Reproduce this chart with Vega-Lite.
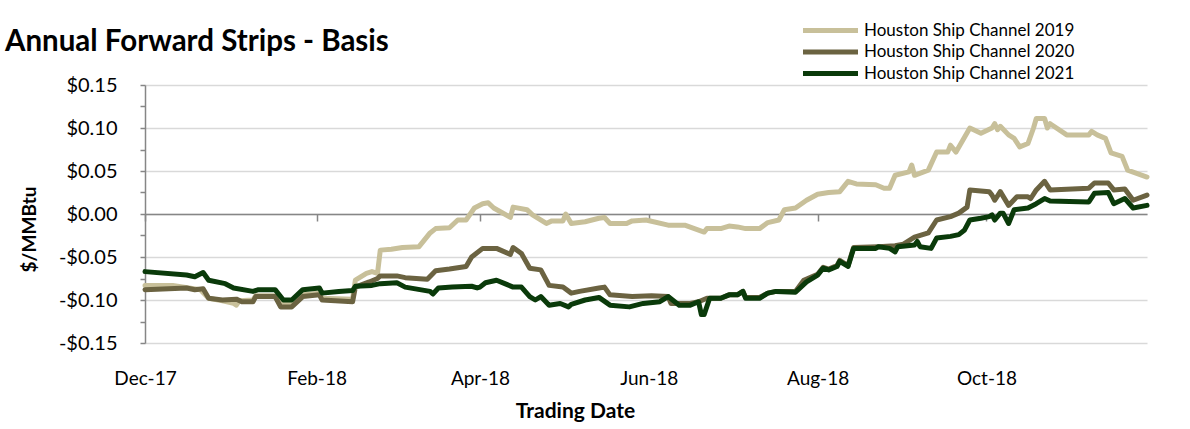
{
  "$schema": "https://vega.github.io/schema/vega-lite/v6.json",
  "width": 1002,
  "height": 258,
  "autosize": "none",
  "padding": {"left": 145, "top": 85, "right": 43, "bottom": 86},
  "background": "white",
  "title": {"text": "Annual Forward Strips - Basis", "anchor": "start", "frame": "group", "dx": -140, "offset": -58, "baseline": "alphabetic", "font": "Lato", "fontSize": 29.5, "fontWeight": "bold", "color": "#000000"},
  "config": {"view": {"stroke": null}},
  "data": {"values": [
    {"s":"2019","d":"2017-12-01","v":-0.083},{"s":"2019","d":"2017-12-11","v":-0.083},{"s":"2019","d":"2017-12-21","v":-0.088},{"s":"2019","d":"2017-12-24","v":-0.098},{"s":"2019","d":"2017-12-29","v":-0.101},{"s":"2019","d":"2018-01-02","v":-0.104},{"s":"2019","d":"2018-01-03","v":-0.106},{"s":"2019","d":"2018-01-04","v":-0.101},{"s":"2019","d":"2018-01-09","v":-0.100},{"s":"2019","d":"2018-01-10","v":-0.095},{"s":"2019","d":"2018-01-17","v":-0.095},{"s":"2019","d":"2018-01-19","v":-0.105},{"s":"2019","d":"2018-01-23","v":-0.105},{"s":"2019","d":"2018-01-27","v":-0.094},{"s":"2019","d":"2018-02-02","v":-0.092},{"s":"2019","d":"2018-02-03","v":-0.098},{"s":"2019","d":"2018-02-14","v":-0.099},{"s":"2019","d":"2018-02-15","v":-0.077},{"s":"2019","d":"2018-02-19","v":-0.069},{"s":"2019","d":"2018-02-21","v":-0.067},{"s":"2019","d":"2018-02-23","v":-0.069},{"s":"2019","d":"2018-02-24","v":-0.042},{"s":"2019","d":"2018-02-28","v":-0.041},{"s":"2019","d":"2018-03-04","v":-0.039},{"s":"2019","d":"2018-03-10","v":-0.038},{"s":"2019","d":"2018-03-14","v":-0.022},{"s":"2019","d":"2018-03-16","v":-0.017},{"s":"2019","d":"2018-03-21","v":-0.016},{"s":"2019","d":"2018-03-24","v":-0.007},{"s":"2019","d":"2018-03-27","v":-0.007},{"s":"2019","d":"2018-03-30","v":0.007},{"s":"2019","d":"2018-04-02","v":0.012},{"s":"2019","d":"2018-04-04","v":0.013},{"s":"2019","d":"2018-04-06","v":0.007},{"s":"2019","d":"2018-04-12","v":-0.004},{"s":"2019","d":"2018-04-13","v":0.008},{"s":"2019","d":"2018-04-18","v":0.005},{"s":"2019","d":"2018-04-20","v":-0.001},{"s":"2019","d":"2018-04-25","v":-0.011},{"s":"2019","d":"2018-04-27","v":-0.008},{"s":"2019","d":"2018-05-01","v":-0.008},{"s":"2019","d":"2018-05-02","v":0.000},{"s":"2019","d":"2018-05-04","v":-0.011},{"s":"2019","d":"2018-05-09","v":-0.009},{"s":"2019","d":"2018-05-14","v":-0.005},{"s":"2019","d":"2018-05-16","v":-0.004},{"s":"2019","d":"2018-05-18","v":-0.011},{"s":"2019","d":"2018-05-24","v":-0.011},{"s":"2019","d":"2018-05-26","v":-0.008},{"s":"2019","d":"2018-05-31","v":-0.007},{"s":"2019","d":"2018-06-08","v":-0.013},{"s":"2019","d":"2018-06-14","v":-0.013},{"s":"2019","d":"2018-06-21","v":-0.021},{"s":"2019","d":"2018-06-22","v":-0.017},{"s":"2019","d":"2018-06-27","v":-0.017},{"s":"2019","d":"2018-06-30","v":-0.014},{"s":"2019","d":"2018-07-03","v":-0.015},{"s":"2019","d":"2018-07-06","v":-0.017},{"s":"2019","d":"2018-07-11","v":-0.017},{"s":"2019","d":"2018-07-14","v":-0.010},{"s":"2019","d":"2018-07-18","v":-0.007},{"s":"2019","d":"2018-07-20","v":0.005},{"s":"2019","d":"2018-07-24","v":0.007},{"s":"2019","d":"2018-07-28","v":0.016},{"s":"2019","d":"2018-08-01","v":0.023},{"s":"2019","d":"2018-08-05","v":0.025},{"s":"2019","d":"2018-08-09","v":0.026},{"s":"2019","d":"2018-08-12","v":0.038},{"s":"2019","d":"2018-08-15","v":0.035},{"s":"2019","d":"2018-08-22","v":0.034},{"s":"2019","d":"2018-08-25","v":0.030},{"s":"2019","d":"2018-08-27","v":0.030},{"s":"2019","d":"2018-08-29","v":0.045},{"s":"2019","d":"2018-09-03","v":0.049},{"s":"2019","d":"2018-09-04","v":0.057},{"s":"2019","d":"2018-09-05","v":0.045},{"s":"2019","d":"2018-09-10","v":0.051},{"s":"2019","d":"2018-09-13","v":0.072},{"s":"2019","d":"2018-09-17","v":0.072},{"s":"2019","d":"2018-09-18","v":0.080},{"s":"2019","d":"2018-09-20","v":0.072},{"s":"2019","d":"2018-09-25","v":0.100},{"s":"2019","d":"2018-09-29","v":0.094},{"s":"2019","d":"2018-10-03","v":0.100},{"s":"2019","d":"2018-10-04","v":0.105},{"s":"2019","d":"2018-10-05","v":0.098},{"s":"2019","d":"2018-10-06","v":0.102},{"s":"2019","d":"2018-10-09","v":0.092},{"s":"2019","d":"2018-10-11","v":0.088},{"s":"2019","d":"2018-10-13","v":0.078},{"s":"2019","d":"2018-10-16","v":0.082},{"s":"2019","d":"2018-10-18","v":0.100},{"s":"2019","d":"2018-10-19","v":0.111},{"s":"2019","d":"2018-10-22","v":0.111},{"s":"2019","d":"2018-10-23","v":0.100},{"s":"2019","d":"2018-10-24","v":0.105},{"s":"2019","d":"2018-10-30","v":0.092},{"s":"2019","d":"2018-11-07","v":0.092},{"s":"2019","d":"2018-11-08","v":0.096},{"s":"2019","d":"2018-11-10","v":0.092},{"s":"2019","d":"2018-11-13","v":0.088},{"s":"2019","d":"2018-11-15","v":0.071},{"s":"2019","d":"2018-11-19","v":0.067},{"s":"2019","d":"2018-11-21","v":0.051},{"s":"2019","d":"2018-11-28","v":0.043},
    {"s":"2020","d":"2017-12-01","v":-0.088},{"s":"2020","d":"2017-12-16","v":-0.086},{"s":"2020","d":"2017-12-19","v":-0.088},{"s":"2020","d":"2017-12-22","v":-0.087},{"s":"2020","d":"2017-12-24","v":-0.098},{"s":"2020","d":"2017-12-29","v":-0.100},{"s":"2020","d":"2018-01-03","v":-0.099},{"s":"2020","d":"2018-01-05","v":-0.102},{"s":"2020","d":"2018-01-09","v":-0.102},{"s":"2020","d":"2018-01-10","v":-0.096},{"s":"2020","d":"2018-01-17","v":-0.096},{"s":"2020","d":"2018-01-19","v":-0.108},{"s":"2020","d":"2018-01-23","v":-0.108},{"s":"2020","d":"2018-01-27","v":-0.096},{"s":"2020","d":"2018-02-02","v":-0.094},{"s":"2020","d":"2018-02-03","v":-0.100},{"s":"2020","d":"2018-02-14","v":-0.102},{"s":"2020","d":"2018-02-15","v":-0.085},{"s":"2020","d":"2018-02-20","v":-0.079},{"s":"2020","d":"2018-02-23","v":-0.075},{"s":"2020","d":"2018-02-24","v":-0.072},{"s":"2020","d":"2018-03-02","v":-0.072},{"s":"2020","d":"2018-03-05","v":-0.074},{"s":"2020","d":"2018-03-13","v":-0.076},{"s":"2020","d":"2018-03-16","v":-0.066},{"s":"2020","d":"2018-03-21","v":-0.064},{"s":"2020","d":"2018-03-27","v":-0.061},{"s":"2020","d":"2018-03-29","v":-0.050},{"s":"2020","d":"2018-04-02","v":-0.040},{"s":"2020","d":"2018-04-07","v":-0.040},{"s":"2020","d":"2018-04-12","v":-0.047},{"s":"2020","d":"2018-04-13","v":-0.039},{"s":"2020","d":"2018-04-16","v":-0.046},{"s":"2020","d":"2018-04-19","v":-0.063},{"s":"2020","d":"2018-04-23","v":-0.065},{"s":"2020","d":"2018-04-26","v":-0.083},{"s":"2020","d":"2018-05-01","v":-0.085},{"s":"2020","d":"2018-05-04","v":-0.092},{"s":"2020","d":"2018-05-07","v":-0.090},{"s":"2020","d":"2018-05-14","v":-0.086},{"s":"2020","d":"2018-05-16","v":-0.085},{"s":"2020","d":"2018-05-18","v":-0.094},{"s":"2020","d":"2018-05-26","v":-0.096},{"s":"2020","d":"2018-06-02","v":-0.095},{"s":"2020","d":"2018-06-08","v":-0.096},{"s":"2020","d":"2018-06-09","v":-0.104},{"s":"2020","d":"2018-06-16","v":-0.104},{"s":"2020","d":"2018-06-19","v":-0.102},{"s":"2020","d":"2018-06-22","v":-0.098},{"s":"2020","d":"2018-06-27","v":-0.098},{"s":"2020","d":"2018-06-30","v":-0.094},{"s":"2020","d":"2018-07-03","v":-0.094},{"s":"2020","d":"2018-07-05","v":-0.090},{"s":"2020","d":"2018-07-06","v":-0.097},{"s":"2020","d":"2018-07-11","v":-0.097},{"s":"2020","d":"2018-07-14","v":-0.092},{"s":"2020","d":"2018-07-17","v":-0.090},{"s":"2020","d":"2018-07-24","v":-0.090},{"s":"2020","d":"2018-07-27","v":-0.077},{"s":"2020","d":"2018-08-01","v":-0.070},{"s":"2020","d":"2018-08-03","v":-0.062},{"s":"2020","d":"2018-08-05","v":-0.064},{"s":"2020","d":"2018-08-08","v":-0.060},{"s":"2020","d":"2018-08-09","v":-0.054},{"s":"2020","d":"2018-08-12","v":-0.060},{"s":"2020","d":"2018-08-14","v":-0.039},{"s":"2020","d":"2018-08-23","v":-0.038},{"s":"2020","d":"2018-08-29","v":-0.037},{"s":"2020","d":"2018-09-01","v":-0.035},{"s":"2020","d":"2018-09-05","v":-0.027},{"s":"2020","d":"2018-09-10","v":-0.022},{"s":"2020","d":"2018-09-13","v":-0.007},{"s":"2020","d":"2018-09-18","v":-0.003},{"s":"2020","d":"2018-09-21","v":0.001},{"s":"2020","d":"2018-09-24","v":0.008},{"s":"2020","d":"2018-09-25","v":0.028},{"s":"2020","d":"2018-10-02","v":0.026},{"s":"2020","d":"2018-10-03","v":0.022},{"s":"2020","d":"2018-10-04","v":0.016},{"s":"2020","d":"2018-10-06","v":0.026},{"s":"2020","d":"2018-10-09","v":0.010},{"s":"2020","d":"2018-10-12","v":0.020},{"s":"2020","d":"2018-10-16","v":0.020},{"s":"2020","d":"2018-10-17","v":0.018},{"s":"2020","d":"2018-10-19","v":0.028},{"s":"2020","d":"2018-10-22","v":0.038},{"s":"2020","d":"2018-10-24","v":0.028},{"s":"2020","d":"2018-11-07","v":0.030},{"s":"2020","d":"2018-11-09","v":0.036},{"s":"2020","d":"2018-11-14","v":0.036},{"s":"2020","d":"2018-11-16","v":0.028},{"s":"2020","d":"2018-11-20","v":0.029},{"s":"2020","d":"2018-11-23","v":0.016},{"s":"2020","d":"2018-11-28","v":0.022},
    {"s":"2021","d":"2017-12-01","v":-0.067},{"s":"2021","d":"2017-12-16","v":-0.071},{"s":"2021","d":"2017-12-19","v":-0.073},{"s":"2021","d":"2017-12-22","v":-0.068},{"s":"2021","d":"2017-12-24","v":-0.077},{"s":"2021","d":"2017-12-30","v":-0.081},{"s":"2021","d":"2018-01-02","v":-0.086},{"s":"2021","d":"2018-01-09","v":-0.090},{"s":"2021","d":"2018-01-11","v":-0.088},{"s":"2021","d":"2018-01-17","v":-0.088},{"s":"2021","d":"2018-01-20","v":-0.100},{"s":"2021","d":"2018-01-23","v":-0.100},{"s":"2021","d":"2018-01-27","v":-0.088},{"s":"2021","d":"2018-02-02","v":-0.086},{"s":"2021","d":"2018-02-03","v":-0.092},{"s":"2021","d":"2018-02-09","v":-0.090},{"s":"2021","d":"2018-02-14","v":-0.089},{"s":"2021","d":"2018-02-15","v":-0.084},{"s":"2021","d":"2018-02-21","v":-0.083},{"s":"2021","d":"2018-02-24","v":-0.081},{"s":"2021","d":"2018-03-02","v":-0.080},{"s":"2021","d":"2018-03-05","v":-0.085},{"s":"2021","d":"2018-03-14","v":-0.090},{"s":"2021","d":"2018-03-15","v":-0.093},{"s":"2021","d":"2018-03-17","v":-0.086},{"s":"2021","d":"2018-03-22","v":-0.085},{"s":"2021","d":"2018-03-29","v":-0.084},{"s":"2021","d":"2018-03-31","v":-0.086},{"s":"2021","d":"2018-04-01","v":-0.085},{"s":"2021","d":"2018-04-03","v":-0.080},{"s":"2021","d":"2018-04-07","v":-0.077},{"s":"2021","d":"2018-04-10","v":-0.081},{"s":"2021","d":"2018-04-13","v":-0.085},{"s":"2021","d":"2018-04-16","v":-0.085},{"s":"2021","d":"2018-04-19","v":-0.096},{"s":"2021","d":"2018-04-21","v":-0.100},{"s":"2021","d":"2018-04-23","v":-0.096},{"s":"2021","d":"2018-04-26","v":-0.106},{"s":"2021","d":"2018-04-30","v":-0.104},{"s":"2021","d":"2018-05-03","v":-0.108},{"s":"2021","d":"2018-05-04","v":-0.105},{"s":"2021","d":"2018-05-09","v":-0.100},{"s":"2021","d":"2018-05-14","v":-0.097},{"s":"2021","d":"2018-05-18","v":-0.106},{"s":"2021","d":"2018-05-25","v":-0.108},{"s":"2021","d":"2018-05-30","v":-0.104},{"s":"2021","d":"2018-06-05","v":-0.102},{"s":"2021","d":"2018-06-08","v":-0.096},{"s":"2021","d":"2018-06-12","v":-0.106},{"s":"2021","d":"2018-06-16","v":-0.106},{"s":"2021","d":"2018-06-19","v":-0.102},{"s":"2021","d":"2018-06-20","v":-0.117},{"s":"2021","d":"2018-06-21","v":-0.117},{"s":"2021","d":"2018-06-23","v":-0.098},{"s":"2021","d":"2018-06-27","v":-0.098},{"s":"2021","d":"2018-06-30","v":-0.094},{"s":"2021","d":"2018-07-03","v":-0.094},{"s":"2021","d":"2018-07-05","v":-0.090},{"s":"2021","d":"2018-07-06","v":-0.098},{"s":"2021","d":"2018-07-11","v":-0.098},{"s":"2021","d":"2018-07-14","v":-0.092},{"s":"2021","d":"2018-07-17","v":-0.090},{"s":"2021","d":"2018-07-24","v":-0.091},{"s":"2021","d":"2018-07-28","v":-0.079},{"s":"2021","d":"2018-08-01","v":-0.071},{"s":"2021","d":"2018-08-03","v":-0.063},{"s":"2021","d":"2018-08-05","v":-0.065},{"s":"2021","d":"2018-08-08","v":-0.061},{"s":"2021","d":"2018-08-09","v":-0.055},{"s":"2021","d":"2018-08-12","v":-0.061},{"s":"2021","d":"2018-08-14","v":-0.040},{"s":"2021","d":"2018-08-22","v":-0.040},{"s":"2021","d":"2018-08-23","v":-0.038},{"s":"2021","d":"2018-08-27","v":-0.040},{"s":"2021","d":"2018-08-29","v":-0.044},{"s":"2021","d":"2018-08-30","v":-0.038},{"s":"2021","d":"2018-09-05","v":-0.036},{"s":"2021","d":"2018-09-06","v":-0.032},{"s":"2021","d":"2018-09-07","v":-0.038},{"s":"2021","d":"2018-09-11","v":-0.040},{"s":"2021","d":"2018-09-13","v":-0.028},{"s":"2021","d":"2018-09-18","v":-0.026},{"s":"2021","d":"2018-09-21","v":-0.024},{"s":"2021","d":"2018-09-23","v":-0.019},{"s":"2021","d":"2018-09-25","v":-0.007},{"s":"2021","d":"2018-09-29","v":-0.005},{"s":"2021","d":"2018-10-02","v":-0.003},{"s":"2021","d":"2018-10-03","v":-0.001},{"s":"2021","d":"2018-10-04","v":-0.007},{"s":"2021","d":"2018-10-06","v":0.001},{"s":"2021","d":"2018-10-07","v":0.001},{"s":"2021","d":"2018-10-09","v":-0.011},{"s":"2021","d":"2018-10-11","v":0.005},{"s":"2021","d":"2018-10-16","v":0.007},{"s":"2021","d":"2018-10-19","v":0.012},{"s":"2021","d":"2018-10-22","v":0.018},{"s":"2021","d":"2018-10-24","v":0.015},{"s":"2021","d":"2018-11-07","v":0.014},{"s":"2021","d":"2018-11-09","v":0.024},{"s":"2021","d":"2018-11-14","v":0.025},{"s":"2021","d":"2018-11-16","v":0.012},{"s":"2021","d":"2018-11-20","v":0.018},{"s":"2021","d":"2018-11-23","v":0.007},{"s":"2021","d":"2018-11-28","v":0.010}
  ]},
  "mark": {"type": "line", "strokeWidth": 5, "strokeCap": "round", "strokeJoin": "round"},
  "encoding": {
    "x": {
      "field": "d", "type": "temporal",
      "scale": {"domain": [{"year": 2017, "month": 12, "date": 1}, {"year": 2018, "month": 11, "date": 28}]},
      "axis": {
        "values": [{"year": 2017, "month": 12, "date": 1}, {"year": 2018, "month": 2, "date": 1}, {"year": 2018, "month": 4, "date": 1}, {"year": 2018, "month": 6, "date": 1}, {"year": 2018, "month": 8, "date": 1}, {"year": 2018, "month": 10, "date": 1}],
        "format": "%b-%y", "grid": false, "offset": -129,
        "domainColor": "#868686", "domainWidth": 1.5, "tickColor": "#868686", "tickWidth": 1.5, "tickSize": 7,
        "labelPadding": 148, "labelFont": "Lato", "labelFontSize": 19, "labelColor": "#000000", "labelFlush": false, "labelOverlap": false,
        "title": "Trading Date", "titleFont": "Lato", "titleFontSize": 21, "titleFontWeight": "bold", "titleColor": "#000000",
        "titleX": 430, "titleY": 203, "titleBaseline": "alphabetic", "titleAlign": "center"
      }
    },
    "y": {
      "field": "v", "type": "quantitative",
      "scale": {"domain": [-0.15, 0.15], "nice": false, "zero": false},
      "axis": {
        "values": [-0.15, -0.125, -0.1, -0.075, -0.05, -0.025, 0, 0.025, 0.05, 0.075, 0.1, 0.125, 0.15],
        "labelExpr": "round(datum.value*1000) % 50 !== 0 ? '' : (datum.value < -0.0001 ? '-$' + format(-datum.value, '.2f') : '$' + format(abs(datum.value), '.2f'))",
        "grid": true, "gridColor": "#D9D9D9", "gridWidth": 1.5,
        "gridOpacity": {"condition": {"test": "round(datum.value*1000) % 50 === 0", "value": 1}, "value": 0},
        "domainColor": "#868686", "domainWidth": 1.5, "tickColor": "#868686", "tickWidth": 1.5, "tickSize": 5,
        "labelFont": "Lato", "labelFontSize": 20, "labelColor": "#000000", "labelPadding": 23,
        "title": "$/MMBtu", "titleFont": "Lato", "titleFontSize": 19, "titleFontWeight": "bold", "titleColor": "#000000",
        "titleX": -116, "titleY": 144, "titleAngle": 270, "titleAlign": "center", "titleBaseline": "middle"
      }
    },
    "color": {
      "field": "s", "type": "nominal",
      "scale": {"domain": ["2019", "2020", "2021"], "range": ["#C8C09A", "#6B6341", "#0A3A0A"]},
      "legend": {
        "title": null, "orient": "none", "legendX": 677, "legendY": -63,
        "symbolType": "M-5,0H5", "symbolSize": 121, "symbolStrokeWidth": 5,
        "labelExpr": "'Houston Ship Channel ' + datum.label", "labelLimit": 400,
        "labelFont": "Lato", "labelFontSize": 17, "labelColor": "#000000", "labelOffset": 25, "rowPadding": 0.5, "padding": 0
      }
    }
  }
}
